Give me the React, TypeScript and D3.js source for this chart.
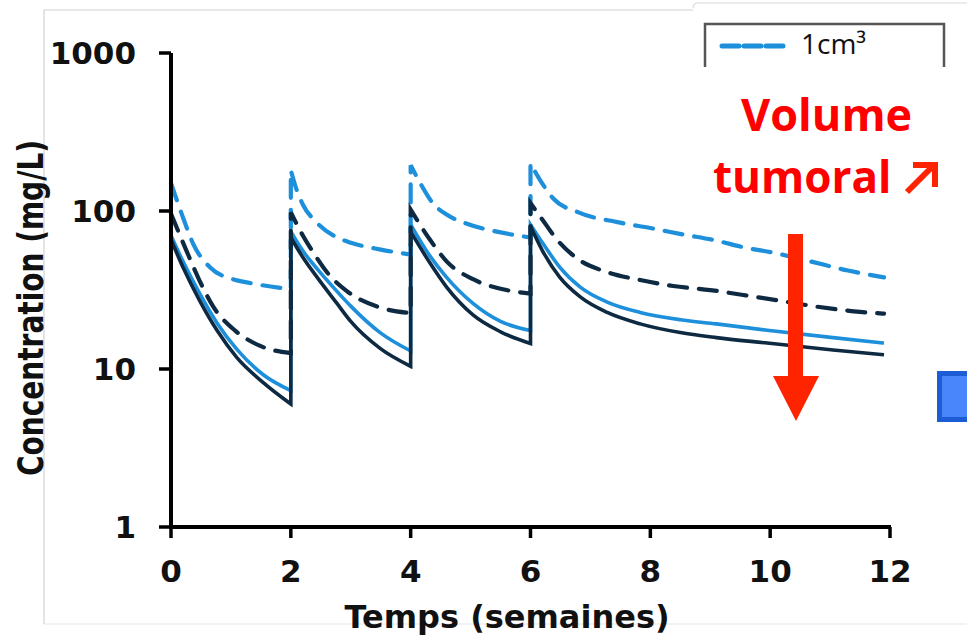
import React from "react";
import * as d3 from "d3";

// ---- data ----
const xTicks = [0, 2, 4, 6, 8, 10, 12];
const yTicks = [1, 10, 100, 1000];
const yTickLabels = ["1", "10", "100", "1000"];
const xTitle = "Temps (semaines)";
const yTitle = "Concentration (mg/L)";
const legendLabel = "1cm³";
const noteLine1 = "Volume";
const noteLine2 = "tumoral";

// [week, mg/L]; a repeated week = dose (vertical jump from trough to peak)
const lightDashed: [number, number][] = [
  [0, 150], [0.2, 91], [0.37, 62], [0.65, 44], [1.03, 37], [1.32, 35], [2, 32],
  [2, 181], [2.1, 135], [2.2, 110], [2.44, 84], [2.77, 68], [3, 63], [3.5, 57], [4, 53],
  [4, 195], [4.16, 150], [4.37, 112], [4.6, 95], [4.94, 83], [5.44, 74], [6, 68],
  [6, 200], [6.16, 157], [6.38, 120], [6.8, 98], [7.45, 85], [8, 78], [8.55, 71],
  [9.1, 65], [9.55, 59], [10.1, 54], [10.67, 48], [11.3, 42], [11.9, 38],
];
const navyDashed: [number, number][] = [
  [0, 96], [0.25, 57], [0.48, 36], [0.7, 25], [1.07, 17.5], [1.49, 14], [2, 12.6],
  [2, 98], [2.2, 70], [2.37, 55], [2.65, 39], [2.94, 31], [3.49, 24.5], [4, 22.6],
  [4, 102], [4.32, 66], [4.6, 48], [5.04, 37], [5.6, 31.6], [6, 30],
  [6, 112], [6.2, 88], [6.44, 66], [6.78, 50], [7.28, 41], [7.83, 36.6], [8.38, 33.5],
  [9, 31.6], [9.55, 29.4], [10.1, 27.3], [10.78, 24.8], [11.5, 23], [11.9, 22.4],
];
const lightSolid: [number, number][] = [
  [0, 70], [0.2, 48], [0.48, 30], [0.77, 19.5], [1.1, 13.3], [1.54, 9.2], [2, 7.3],
  [2, 74], [2.2, 56], [2.44, 43], [2.77, 31], [3, 25], [3.49, 17], [4, 13],
  [4, 82], [4.32, 52], [4.6, 38], [5.04, 26], [5.5, 20], [6, 17.5],
  [6, 82], [6.2, 63], [6.49, 44], [6.83, 33], [7.28, 26.5], [7.83, 22.8], [8.5, 20.5],
  [9.1, 19.3], [9.95, 17.6], [11.05, 15.8], [11.9, 14.6],
];
const navySolid: [number, number][] = [
  [0, 66], [0.2, 44], [0.48, 27], [0.77, 17.5], [1.1, 11.8], [1.54, 8.2], [2, 6],
  [2, 68], [2.2, 51], [2.44, 38], [2.77, 26], [3, 20], [3.49, 13.5], [4, 10.4],
  [4, 74], [4.32, 47], [4.6, 33], [5.04, 22], [5.5, 17.2], [6, 14.5],
  [6, 80], [6.2, 56], [6.49, 38], [6.83, 28.6], [7.28, 22.8], [7.83, 19.3], [8.5, 17],
  [9.1, 15.8], [9.95, 14.6], [11.05, 13.2], [11.9, 12.3],
];

const LIGHT = "#1d8fdb";
const NAVY = "#0e2a42";
const RED = "#ff2400";

const W = 967;
const H = 636;
const x = d3.scaleLinear().domain([0, 12]).range([171, 890]);
const y = d3.scaleLog().domain([1, 1000]).range([527, 53]);

function buildPath(points: [number, number][]): string {
  // split into dose cycles where the week repeats
  const segs: [number, number][][] = [];
  let cur: [number, number][] = [];
  points.forEach((p, i) => {
    if (i > 0 && p[0] === points[i - 1][0]) {
      segs.push(cur);
      cur = [];
    }
    cur.push(p);
  });
  if (cur.length) segs.push(cur);
  const line = d3
    .line<[number, number]>()
    .x((d) => x(d[0]))
    .y((d) => y(d[1]))
    .curve(d3.curveMonotoneX);
  return segs
    .map((s, i) => {
      const d = line(s) || "";
      return i === 0 ? d : "L" + d.slice(1);
    })
    .join("");
}

export default function App() {
  const font = "'DejaVu Sans', sans-serif";
  return (
    <svg
      width={W}
      height={H}
      style={{ position: "absolute", left: 0, top: 0, background: "#fff" }}
    >
      <rect x={0} y={0} width={W} height={H} fill="#fff" />
      {/* light frame lines of the pasted picture */}
      <path d="M44,624 V10 H693" fill="none" stroke="#d2d2d2" strokeWidth={1.2} />
      <path d="M693,8 Q693,3 698,3 H967" fill="none" stroke="#d8d8d8" strokeWidth={1.2} />
      <path d="M44,624 H967" fill="none" stroke="#e6e6e6" strokeWidth={1.2} />

      {/* series */}
      <path d={buildPath(lightDashed)} fill="none" stroke={LIGHT} strokeWidth={4.2} strokeDasharray="18 12" strokeLinecap="round" />
      <path d={buildPath(lightSolid)} fill="none" stroke={LIGHT} strokeWidth={3.6} />
      <path d={buildPath(navyDashed)} fill="none" stroke={NAVY} strokeWidth={4.2} strokeDasharray="18 12" strokeLinecap="round" />
      <path d={buildPath(navySolid)} fill="none" stroke={NAVY} strokeWidth={3.6} />

      {/* y axis */}
      <line x1={x(0)} x2={x(0)} y1={y(1000)} y2={y(1) + 2} stroke="#000" strokeWidth={4} />
      {yTicks.map((t, i) => (
        <g key={t}>
          <line x1={x(0) - 12} x2={x(0)} y1={y(t)} y2={y(t)} stroke="#000" strokeWidth={3.5} />
          <text
            x={136}
            y={y(t) + 11}
            textAnchor="end"
            fontFamily={font}
            fontWeight="bold"
            fontSize={31}
            fill="#111"
          >
            {yTickLabels[i]}
          </text>
        </g>
      ))}
      {/* x axis */}
      <line x1={x(0)} x2={x(12) + 1} y1={y(1)} y2={y(1)} stroke="#000" strokeWidth={4} />
      {xTicks.map((t) => (
        <g key={t}>
          <line x1={x(t)} x2={x(t)} y1={y(1)} y2={y(1) + 11} stroke="#000" strokeWidth={3.5} />
          <text
            x={x(t)}
            y={582}
            textAnchor="middle"
            fontFamily={font}
            fontWeight="bold"
            fontSize={31}
            fill="#111"
          >
            {String(t)}
          </text>
        </g>
      ))}
      <text
        x={507}
        y={628}
        textAnchor="middle"
        fontFamily={font}
        fontWeight="bold"
        fontSize={32}
        fill="#111"
      >
        {xTitle}
      </text>
      <text
        transform="translate(43,308) rotate(-90) scale(1,1.25)"
        textAnchor="middle"
        fontFamily={font}
        fontWeight="bold"
        fontSize={28}
        fill="#111"
      >
        {yTitle}
      </text>

      {/* legend (cut) */}
      <path d="M705,67 V24 H944 V67" fill="none" stroke="#555" strokeWidth={2.5} />
      <line x1={722} x2={786} y1={46} y2={46} stroke={LIGHT} strokeWidth={5} strokeDasharray="17 5" strokeLinecap="round" />
      <text x={801} y={54} fontFamily="'Open Sans', sans-serif" fontSize={28} fill="#111">
        {legendLabel}
      </text>

      {/* annotation */}
      <text x={741} y={131} fontFamily="'Open Sans', sans-serif" fontWeight="bold" fontSize={45} fill="#ff0000">
        {noteLine1}
      </text>
      <text x={713} y={193} fontFamily="'Open Sans', sans-serif" fontWeight="bold" fontSize={44} fill="#ff0000">
        {noteLine2}
      </text>
      <g stroke={RED} strokeWidth={6} fill="none" strokeLinecap="butt">
        <line x1={907} y1={192} x2={933} y2={166} />
        <polyline points="913,165 935,165 935,187" />
      </g>

      {/* down arrow */}
      <rect x={788} y={234} width={15} height={144} fill={RED} />
      <polygon points="773,376 819,376 796,421" fill={RED} />

      {/* blue box at right edge */}
      <rect x={937} y={371} width={35} height={51} fill="#1c5dd6" />
      <rect x={942} y={376} width={30} height={41} fill="#4a86fb" />
    </svg>
  );
}
